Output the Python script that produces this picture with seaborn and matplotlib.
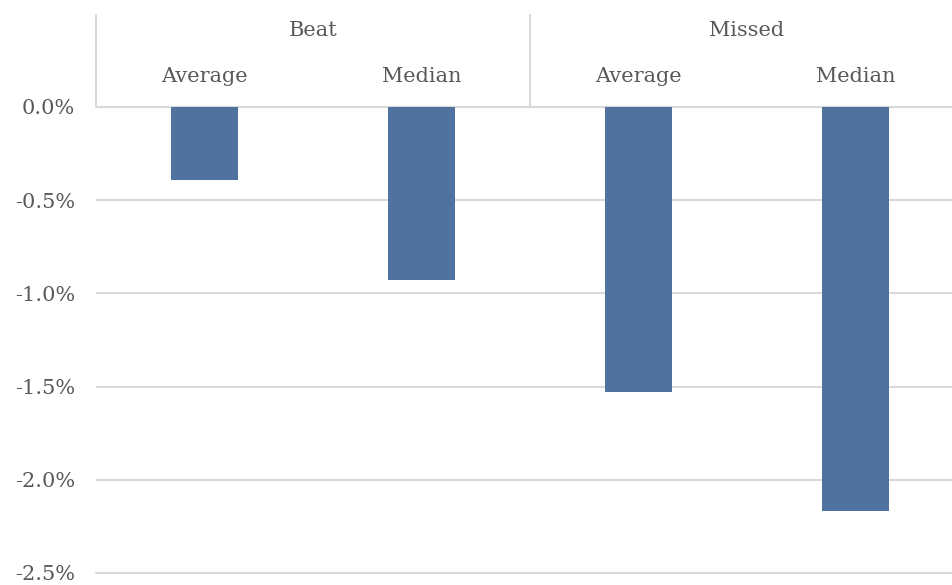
import pandas as pd
import matplotlib.pyplot as plt
import seaborn as sns
from matplotlib.ticker import FuncFormatter

groups = ['Beat', 'Beat', 'Missed', 'Missed']
stats = ['Average', 'Median', 'Average', 'Median']
values = [-0.39, -0.93, -1.53, -2.17]
yticks = [0.0, -0.5, -1.0, -1.5, -2.0, -2.5]

sns.set_style('white')
plt.rcParams['font.family'] = ['DejaVu Serif']
plt.rcParams['axes.unicode_minus'] = False

df = pd.DataFrame({'group': groups, 'stat': stats, 'value': values})
df['label'] = df['group'] + ' ' + df['stat']

txt = '#595959'
grid = '#d9d9d9'
fs = 15

fig = plt.figure(figsize=(9.53, 5.85), dpi=100)
ax = fig.add_axes([96 / 953, 12 / 585, 868 / 953, 466 / 585])
sns.barplot(data=df, x='label', y='value', color='#50729e', width=0.31,
            saturation=1, linewidth=0, ax=ax)
ax.set_ylim(-2.5, 0)
ax.set_xlim(-0.5, 3.5)
ax.set_yticks(yticks)
ax.yaxis.set_major_formatter(FuncFormatter(lambda v, p: f'{v:.1f}%' if v != 0 else '0.0%'))
ax.tick_params(axis='y', length=0, pad=15, labelsize=fs, labelcolor=txt)
ax.set_xticks([])
ax.set_xlabel('')
ax.set_ylabel('')
ax.grid(axis='y', color=grid, linewidth=1.5)
ax.set_axisbelow(True)
sns.despine(ax=ax, left=True, bottom=True, right=True, top=True)
for y in (0, -2.5):
    ax.axhline(y, color=grid, linewidth=1.5, zorder=0, clip_on=False)

# header with group and statistic labels
tr = ax.get_xaxis_transform()
for i, s in enumerate(stats):
    ax.text(i, 1.066, s, transform=tr, ha='center', va='center',
            fontsize=fs, color=txt, clip_on=False)
for i, g in enumerate(['Beat', 'Missed']):
    ax.text(2 * i + 0.5, 1.165, g, transform=tr, ha='center', va='center',
            fontsize=fs, color=txt, clip_on=False)
ax.vlines([-0.5, 1.5, 3.5], 1.0, 1.2, transform=tr, color=grid,
          linewidth=1.5, clip_on=False)

fig.savefig('out.png', dpi=100)
